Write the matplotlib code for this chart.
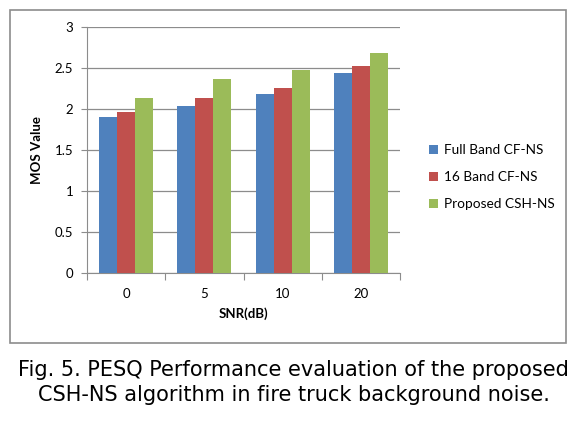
import numpy as np
import matplotlib.pyplot as plt
from matplotlib.patches import Rectangle

snr = ["0", "5", "10", "20"]
full_band = [1.90, 2.04, 2.18, 2.44]
band16 = [1.96, 2.13, 2.26, 2.52]
proposed = [2.14, 2.37, 2.47, 2.68]
names = ["Full Band CF-NS", "16 Band CF-NS", "Proposed CSH-NS"]
colors = ["#4F81BD", "#C0504D", "#9BBB59"]

plt.rcParams['font.family'] = ['Lato', 'DejaVu Sans']

fig = plt.figure(figsize=(5.87, 4.29), dpi=100)
# outer chart box
fig.patches.append(Rectangle((10/587, 86/429), 556/587, 333/429, transform=fig.transFigure,
                             fill=False, edgecolor="#8c8c8c", linewidth=1.2))

ax = fig.add_axes([87/587, 156/429, 313/587, 246/429])
x = np.arange(len(snr))
w = 0.23
for i, (vals, nm) in enumerate(zip([full_band, band16, proposed], names)):
    ax.bar(x + (i - 1) * w, vals, w, color=colors[i], label=nm, zorder=3)

ax.set_xlim(-0.5, 3.5)
ax.set_ylim(0, 3)
ax.set_yticks(np.arange(0, 3.01, 0.5))
ax.set_yticklabels(["0", "0.5", "1", "1.5", "2", "2.5", "3"])
ax.yaxis.grid(True, color="#8c8c8c", linewidth=0.9, zorder=0)
ax.set_xticks(np.arange(-0.5, 3.6, 1))
ax.set_xticklabels([])
ax.set_xticks(x, minor=True)
ax.set_xticklabels(snr, minor=True)
ax.tick_params(axis="x", which="minor", length=0, pad=11, labelsize=9.5)
ax.tick_params(axis="x", which="major", length=5, color="#8c8c8c")
ax.tick_params(axis="y", length=4, color="#8c8c8c", labelsize=9.5, pad=6)
for s in ["top", "right"]:
    ax.spines[s].set_visible(False)
for s in ["left", "bottom"]:
    ax.spines[s].set_color("#8c8c8c")

ax.set_ylabel("MOS Value", fontweight="bold", fontsize=9.5, labelpad=8)
ax.set_xlabel("SNR(dB)", fontweight="bold", fontsize=9.5, labelpad=5)

ax.legend(loc="center left", bbox_to_anchor=(1.055, 0.39), frameon=False,
          fontsize=9.8, handlelength=0.6, handleheight=0.6, handletextpad=0.45,
          labelspacing=1.1)

fig.text(0.5, 59/429, "Fig. 5. PESQ Performance evaluation of the proposed",
         ha="center", va="center", fontsize=15, family=["DejaVu Sans"])
fig.text(0.5, 34/429, "CSH-NS algorithm in fire truck background noise.",
         ha="center", va="center", fontsize=15, family=["DejaVu Sans"])

fig.savefig("out.png", dpi=100)
